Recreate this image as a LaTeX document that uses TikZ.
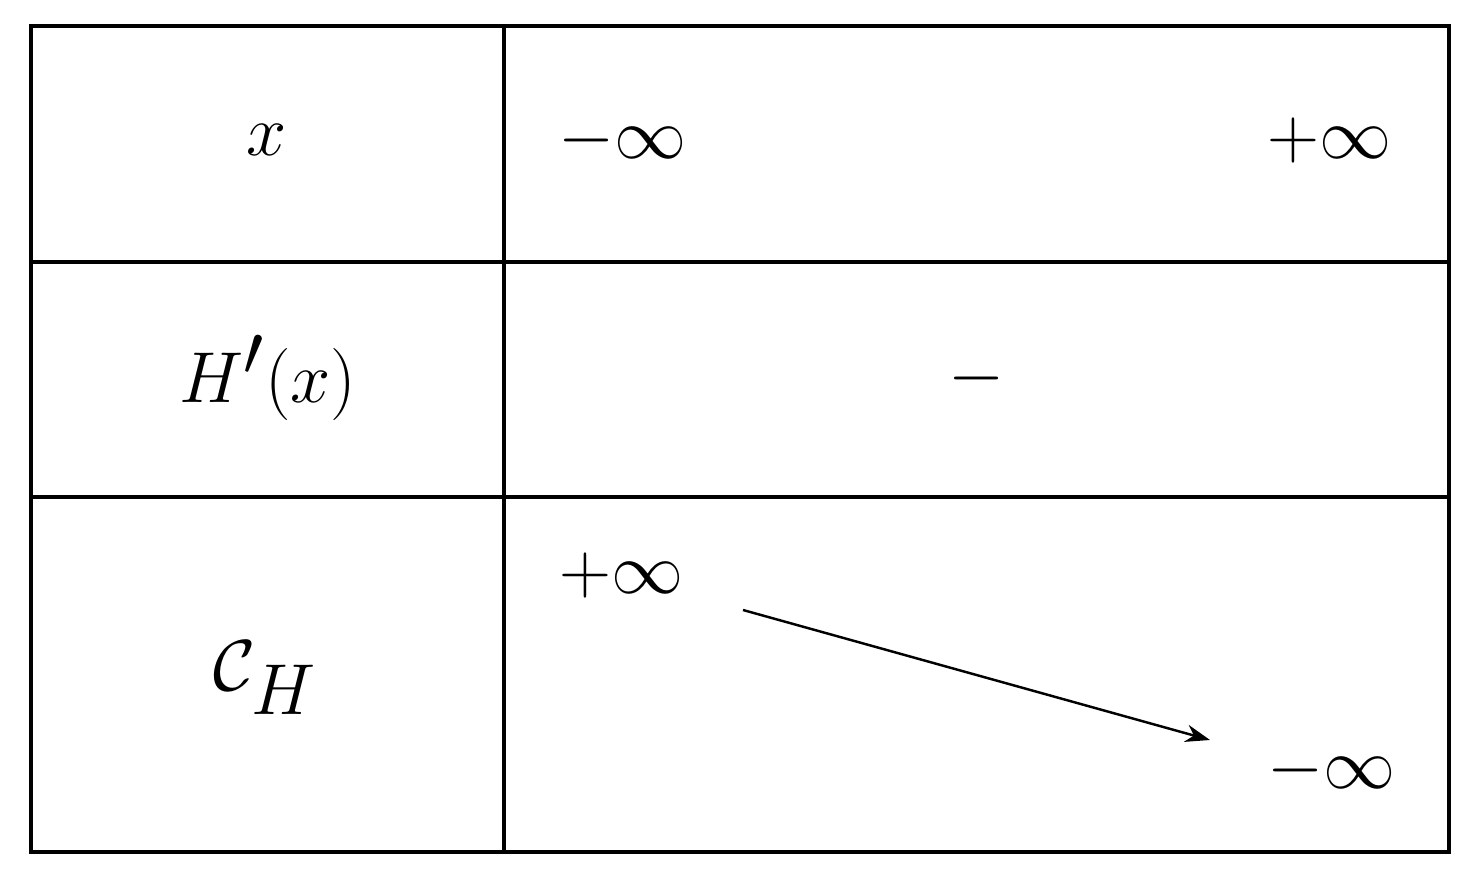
\documentclass[tikz,border=0pt]{standalone}
\usetikzlibrary{arrows.meta}
\newcommand{\tabmath}[1]{\scalebox{1.65}{$#1$}}
\begin{document}
\begin{tikzpicture}[x=0.02cm,y=-0.02cm,
  lbl/.style={inner sep=0pt,font=\fontsize{37}{44}\selectfont},
  grid/.style={line width=2pt}]
\useasboundingbox (0,0) rectangle (1484,884);
\draw[grid] (31,26) rectangle (1449,852);
\draw[grid] (504,26) -- (504,852);
\draw[grid] (31,262) -- (1449,262);
\draw[grid] (31,497) -- (1449,497);
\node[lbl] (x) at (267,140) {\tabmath{x}};
\node[lbl] (xa) at (623,140) {\tabmath{-\infty}};
\node[lbl] (xb) at (1330,140) {\tabmath{+\infty}};
\node[lbl] (hp) at (268,378) {\tabmath{H'(x)}};
\node[lbl] (sg) at (977,378) {\tabmath{-}};
\node[lbl] (ch) at (265,678) {\tabmath{\mathcal{C}_H}};
\node[lbl] (va) at (622,575) {\tabmath{+\infty}};
\node[lbl] (vb) at (1332,770) {\tabmath{-\infty}};
\coordinate (s) at (743,610);
\coordinate (e) at (1210,740);
\draw[line width=1.4pt,-{Stealth[length=14pt,width=10pt]}] (s) -- (e);
\end{tikzpicture}
\end{document}
